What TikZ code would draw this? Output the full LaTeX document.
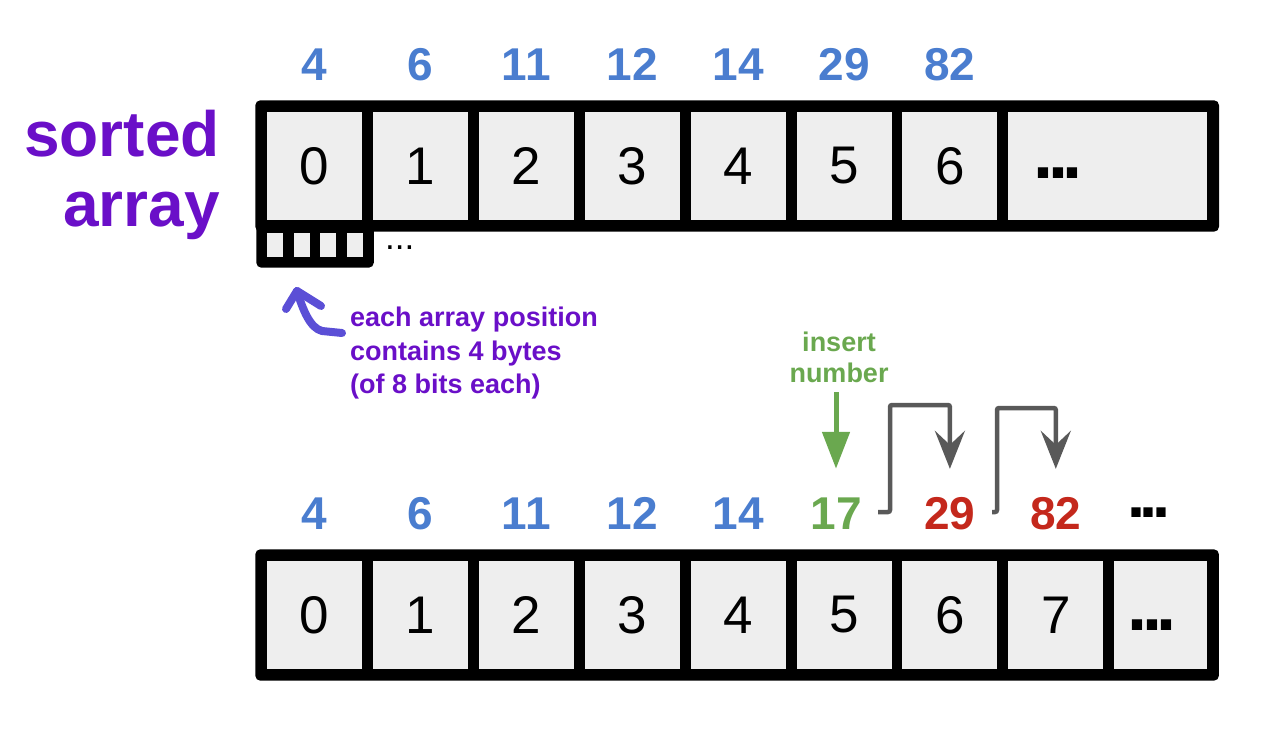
\documentclass[tikz,border=0pt]{standalone}
\usepackage{fontspec}
\setmainfont{Liberation Sans}
\usetikzlibrary{positioning, arrows.meta, calc, fit, backgrounds}
\definecolor{arrBlue}{HTML}{4A7DCF}
\definecolor{arrPurple}{HTML}{6A0FC8}
\definecolor{arrHook}{HTML}{5B4FD6}
\definecolor{arrGreen}{HTML}{6AA84F}
\definecolor{arrRed}{HTML}{C4281C}
\definecolor{arrGray}{HTML}{595959}
\definecolor{arrCell}{HTML}{EEEEEE}
\newcommand{\sqdots}{.\kern-0.08em.\kern-0.08em.}

\begin{document}
\begin{tikzpicture}[
    x=1pt, y=-1pt,
    arraycell/.style={
        fill=arrCell, minimum width=95pt, minimum height=108pt, inner sep=0pt,
        font=\fontsize{53}{53}\selectfont
    },
    bytecell/.style={fill=arrCell, minimum width=16pt, minimum height=24pt, inner sep=0pt},
    arrayframe/.style={fill=black, rounded corners=5pt, inner sep=11.5pt},
    numlabel/.style={font=\fontsize{46}{46}\selectfont\bfseries, text=arrBlue, inner sep=0pt},
    dotlabel/.style={font=\fontsize{72}{72}\selectfont\bfseries, inner sep=0pt, anchor=base},
    notelabel/.style={font=\fontsize{27}{33.5}\selectfont\bfseries, inner sep=0pt},
    shiftarrow/.style={-{Stealth[length=38pt, width=30pt, inset=14pt]}, line width=4.5pt,
        draw=arrGray, rounded corners=2pt},
    insertarrow/.style={-{Triangle[length=37pt, width=27pt]}, line width=5pt, draw=arrGreen},
    hookarrow/.style={line width=8pt, draw=arrHook, line cap=round, line join=round},
]
\useasboundingbox (0,0) rectangle (1280,730);

% Title
\node[font=\fontsize{64}{70}\selectfont\bfseries, text=arrPurple, align=right,
      anchor=east, inner sep=0pt] (title) at (220,175) {sorted\\array};

% Top array cells
\node[arraycell] (t0) at (314.5,166) {0};
\node[arraycell, right=10.5pt of t0] (t1) {1};
\node[arraycell, right=10.5pt of t1] (t2) {2};
\node[arraycell, right=10.5pt of t2] (t3) {3};
\node[arraycell, right=10.5pt of t3] (t4) {4};
\node[arraycell, right=10.5pt of t4] (t5) {5};
\node[arraycell, right=10.5pt of t5] (t6) {6};
\node[arraycell, right=10.5pt of t6, minimum width=199pt] (t7) {};
\node[dotlabel] (tdots) at (1058,179) {\sqdots};

% Bytes of position 0
\node[bytecell] (byte0) at (275,245) {};
\node[bytecell, right=10.3pt of byte0] (byte1) {};
\node[bytecell, right=10.3pt of byte1] (byte2) {};
\node[bytecell, right=10.3pt of byte2] (byte3) {};
\node[font=\fontsize{35}{35}\selectfont, inner sep=0pt, anchor=base west] (bytedots) at (385,250) {...};

% Top values
\node[numlabel, above=31pt of t0] (n0) {4};
\node[numlabel, above=31pt of t1] (n1) {6};
\node[numlabel, above=31pt of t2] (n2) {11};
\node[numlabel, above=31pt of t3] (n3) {12};
\node[numlabel, above=31pt of t4] (n4) {14};
\node[numlabel, above=31pt of t5] (n5) {29};
\node[numlabel, above=31pt of t6] (n6) {82};

% Bottom array cells
\node[arraycell] (b0) at (314.5,615) {0};
\node[arraycell, right=10.5pt of b0] (b1) {1};
\node[arraycell, right=10.5pt of b1] (b2) {2};
\node[arraycell, right=10.5pt of b2] (b3) {3};
\node[arraycell, right=10.5pt of b3] (b4) {4};
\node[arraycell, right=10.5pt of b4] (b5) {5};
\node[arraycell, right=10.5pt of b5] (b6) {6};
\node[arraycell, right=10.5pt of b6] (b7) {7};
\node[arraycell, right=10.5pt of b7, minimum width=93pt] (b8) {};
\node[dotlabel] (bdots) at (1152,630) {\sqdots};

% Bottom values
\node[numlabel, above=31pt of b0] (v4) {4};
\node[numlabel, above=31pt of b1] (v6) {6};
\node[numlabel, above=31pt of b2] (v11) {11};
\node[numlabel, above=31pt of b3] (v12) {12};
\node[numlabel, above=31pt of b4] (v14) {14};
\node[numlabel, above=31pt of b5, xshift=-8pt, text=arrGreen] (v17) {17};
\node[numlabel, above=31pt of b6, text=arrRed] (v29) {29};
\node[numlabel, above=31pt of b7, text=arrRed] (v82) {82};
\node[dotlabel, font=\fontsize{65}{65}\selectfont\bfseries] (vdots) at (1149,517) {\sqdots};

% Frames behind the cells
\begin{scope}[on background layer]
    \node[arrayframe, fit=(t0)(t7)] (toparray) {};
    \node[arrayframe, inner sep=10.5pt, fit=(byte0)(byte3)] (bytebox) {};
    \node[arrayframe, fit=(b0)(b8)] (botarray) {};
\end{scope}

% Byte note
\node[notelabel, text=arrPurple, align=left, anchor=north west] (bytenote) at (350,307)
    {each array position\\contains 4 bytes\\(of 8 bits each)};
\coordinate (hooktip) at (297,291);
\draw[hookarrow] (286,309) -- (hooktip) -- (321,306);
\draw[hookarrow] (hooktip) .. controls (303,310) and (310,328) .. (322,331) -- (342,333);

% Insert note
\node[notelabel, font=\fontsize{27}{31}\selectfont\bfseries, text=arrGreen, align=center,
      anchor=south] (insnote) at (839,383) {insert\\number};
\draw[insertarrow] ($(insnote.south -| v17.north)+(0,9)$) -- ($(v17.north)+(0,-29)$);

% Shifted values
\coordinate (from17) at (878,512);
\coordinate (into29) at ($(v29.north)+(0,-28)$);
\draw[shiftarrow] (from17) -- ++(12,0) -- ++(0,-107) -| (into29);
\coordinate (from29) at (992,512);
\coordinate (into82) at ($(v82.north)+(0,-28)$);
\draw[shiftarrow] (from29) -- ++(5,0) -- ++(0,-104) -| (into82);

\end{tikzpicture}
\end{document}
